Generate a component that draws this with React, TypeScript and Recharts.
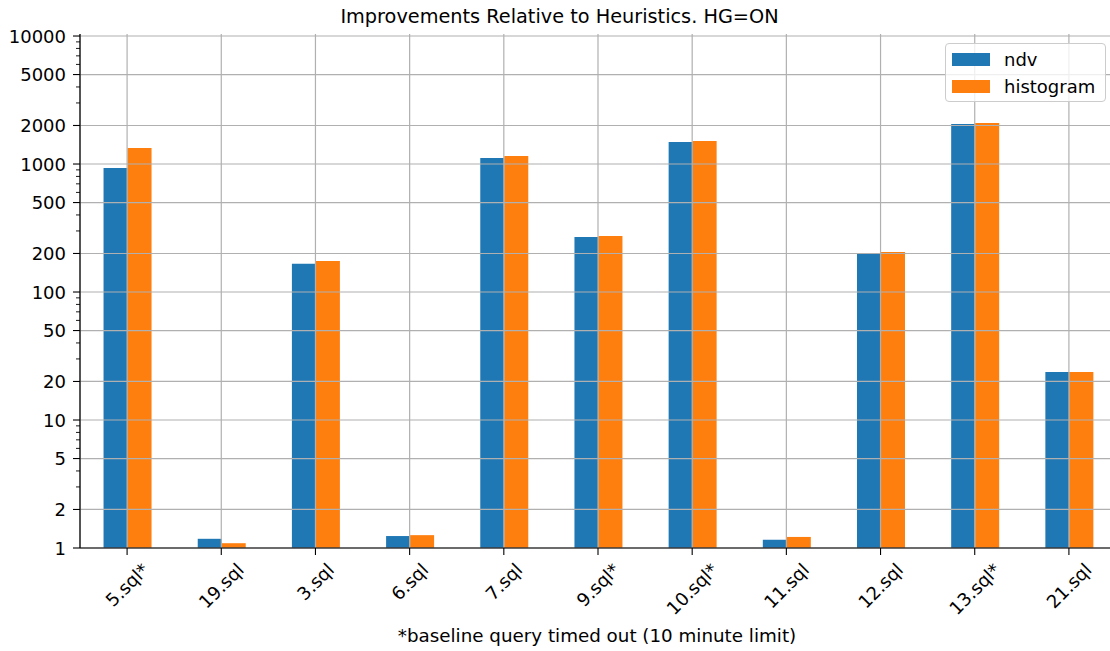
import React from 'react';
import { BarChart, Bar, XAxis, YAxis, CartesianGrid, Legend } from 'recharts';

const categories = ['5.sql*', '19.sql', '3.sql', '6.sql', '7.sql', '9.sql*', '10.sql*', '11.sql', '12.sql', '13.sql*', '21.sql'];
const ndvValues = [931, 1.18, 166, 1.24, 1114, 269, 1486, 1.16, 198, 2054, 23.7];
const histogramValues = [1334, 1.09, 175, 1.26, 1155, 274, 1513, 1.22, 205, 2090, 23.7];
const seriesKeys = ['ndv', 'histogram'];
const seriesColors = ['#1f77b4', '#ff7f0e'];
const majorTicks = [1, 2, 5, 10, 20, 50, 100, 200, 500, 1000, 2000, 5000, 10000];
const minorTicks = [3, 4, 6, 7, 8, 9, 30, 40, 60, 70, 80, 90, 300, 400, 600, 700, 800, 900, 3000, 4000, 6000, 7000, 8000, 9000];
const yDomainMax = 10370;
const titleText = 'Improvements Relative to Heuristics. HG=ON';
const xLabelText = '*baseline query timed out (10 minute limit)';

const data = categories.map((c, i) => ({ name: c, ndv: ndvValues[i], histogram: histogramValues[i] }));
const allYTicks = [...majorTicks, ...minorTicks].sort((a, b) => a - b);

const FONT = '"DejaVu Sans", sans-serif';

const charW: Record<string, number> = {
  '0': 0.636, '1': 0.636, '2': 0.636, '3': 0.636, '4': 0.636, '5': 0.636, '6': 0.636, '7': 0.636, '8': 0.636, '9': 0.636,
  '.': 0.318, s: 0.521, q: 0.635, l: 0.278, '*': 0.5,
};
const textWidth = (s: string, size: number) => s.split('').reduce((a, ch) => a + (charW[ch] ?? 0.6), 0) * size;

const XTick = (props: any) => {
  const { x, y, payload } = props;
  const label = String(payload.value);
  const w = textWidth(label, 18);
  const h = 21;
  const cy = y + (w + h) / (2 * Math.SQRT2);
  return (
    <text x={x} y={cy} transform={`rotate(-45 ${x} ${cy})`} textAnchor="middle" dominantBaseline="central"
      fontSize={18} fontFamily={FONT} fill="#000">{label}</text>
  );
};

const YTick = (props: any) => {
  const { x, y, payload } = props;
  const v = payload.value;
  const major = majorTicks.includes(v);
  const len = major ? 7 : 4;
  return (
    <g>
      <line x1={x - len} x2={x} y1={y} y2={y} stroke="#000" strokeWidth={major ? 1.1 : 0.9} />
      {major && (
        <text x={x - 14} y={y} textAnchor="end" dominantBaseline="central" fontSize={18} fontFamily={FONT} fill="#000">{v}</text>
      )}
    </g>
  );
};

const LegendBox = () => (
  <div style={{
    width: 161, height: 59, boxSizing: 'border-box', background: 'rgba(255,255,255,0.8)', border: '1px solid #cccccc',
    borderRadius: 4, position: 'relative', fontFamily: FONT, fontSize: 18, color: '#000',
  }}>
    {seriesKeys.map((k, i) => (
      <div key={k} style={{ position: 'absolute', left: 6, top: 9 + i * 27, height: 13, display: 'flex', alignItems: 'center' }}>
        <div style={{ width: 38, height: 12.5, background: seriesColors[i] }} />
        <span style={{ marginLeft: 14, lineHeight: '13px', whiteSpace: 'nowrap' }}>{k}</span>
      </div>
    ))}
  </div>
);

export default function App() {
  return (
    <div style={{ position: 'absolute', left: 0, top: 0, width: 1110, height: 651, overflow: 'hidden', background: '#fff' }}>
      <BarChart width={1120} height={651} data={data} margin={{ top: 34, right: 4, bottom: 0, left: 0 }}
        barCategoryGap="25%" barGap={0}>
        <XAxis dataKey="name" interval={0} height={103} tick={<XTick />} tickSize={7} tickMargin={4}
          axisLine={{ stroke: '#000', strokeWidth: 1.2 }} tickLine={{ stroke: '#000', strokeWidth: 1.1 }} />
        <XAxis xAxisId="top" dataKey="name" orientation="top" height={0} tick={false} tickLine={false}
          axisLine={{ stroke: '#000', strokeWidth: 1.2 }} />
        <YAxis scale="log" domain={[1, yDomainMax]} allowDataOverflow ticks={allYTicks} interval={0} width={80}
          tick={<YTick />} tickSize={0} tickMargin={0} tickLine={false}
          axisLine={{ stroke: '#000', strokeWidth: 1.2 }} />
        {seriesKeys.map((k, i) => (
          <Bar key={k} dataKey={k} fill={seriesColors[i]} isAnimationActive={false} />
        ))}
        <CartesianGrid stroke="#b0b0b0" strokeWidth={1.2} horizontalValues={majorTicks} zIndex={350} />
        <Legend layout="vertical" verticalAlign="middle" align="center" content={<LegendBox />}
          wrapperStyle={{ left: 945, top: 43, width: 161, height: 59, right: 'auto', bottom: 'auto', transform: 'none' }} />
      </BarChart>
      <svg width={1110} height={651} style={{ position: 'absolute', left: 0, top: 0, pointerEvents: 'none' }}>
        <text x={559.5} y={23} textAnchor="middle" fontSize={19.3} fontFamily={FONT} fill="#000">{titleText}</text>
        <text x={597} y={641.5} textAnchor="middle" fontSize={18.3} fontFamily={FONT} fill="#000">{xLabelText}</text>
      </svg>
    </div>
  );
}
